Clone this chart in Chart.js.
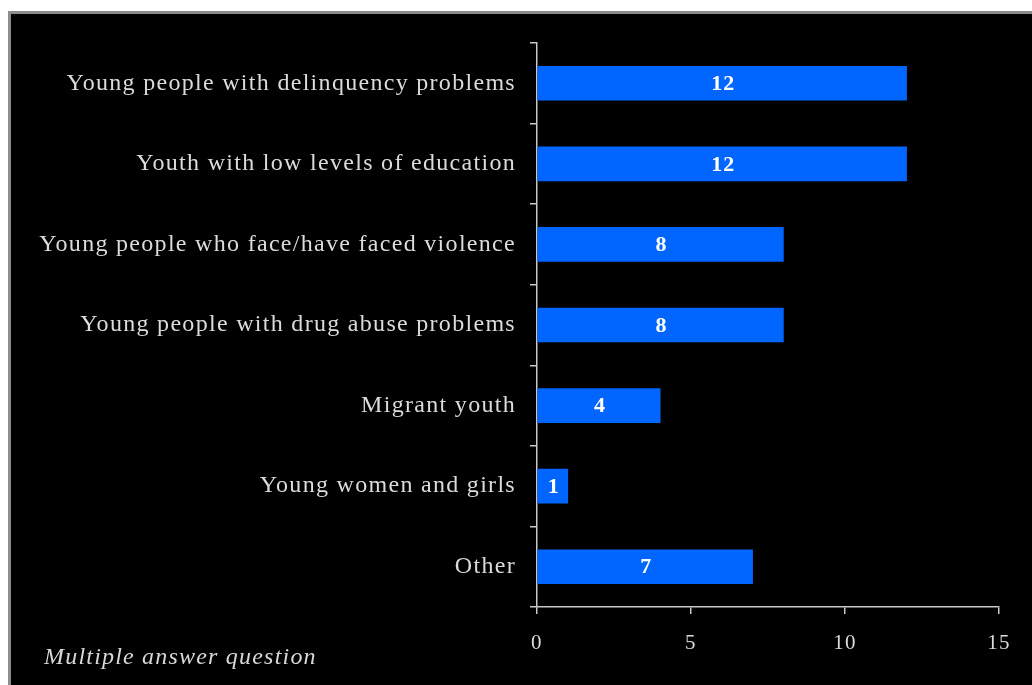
<!DOCTYPE html>
<html>
<head>
<meta charset="utf-8">
<script src="https://cdn.jsdelivr.net/npm/chart.js@4/dist/chart.umd.min.js"></script>
<style>
  html, body { margin: 0; padding: 0; background: #fff; width: 1032px; height: 685px; overflow: hidden; }
  #panel { position: absolute; left: 8px; top: 11px; width: 1040px; height: 690px; background: #000; border: 3px solid #8c8c8c; }
  #chartBox { position: absolute; left: 0; top: 0; width: 1021px; height: 671px; }
  #note { position: absolute; left: 33px; top: 629px; color: #d8d8d8; font: italic 24px "Liberation Serif", "DejaVu Serif", serif; letter-spacing: 1.2px; }
</style>
</head>
<body>
<div id="panel">
  <div id="chartBox"><canvas id="chart"></canvas></div>
  <div id="note">Multiple answer question</div>
</div>
<script>
// --- DATA ---
const categories = [
  'Young people with delinquency problems',
  'Youth with low levels of education',
  'Young people who face/have faced violence',
  'Young people with drug abuse problems',
  'Migrant youth',
  'Young women and girls',
  'Other'
];
const counts = [12, 12, 8, 8, 4, 1, 7];
const xTicks = [0, 5, 10, 15];

const SERIF = '"Liberation Serif", "DejaVu Serif", serif';

// spacing of the old slide font
const spacingPlugin = {
  id: 'spacing',
  beforeDraw(chart) { chart.ctx.letterSpacing = '1.3px'; }
};

// value numbers inside the bars
const valueLabels = {
  id: 'valueLabels',
  afterDatasetsDraw(chart) {
    const ctx = chart.ctx;
    const meta = chart.getDatasetMeta(0);
    ctx.save();
    ctx.letterSpacing = '1px';
    ctx.font = 'bold 22px ' + SERIF;
    ctx.fillStyle = '#ffffff';
    ctx.textAlign = 'center';
    ctx.textBaseline = 'middle';
    meta.data.forEach((bar, i) => {
      ctx.fillText(String(counts[i]), (bar.x + bar.base) / 2 + 1, bar.y + 1);
    });
    ctx.restore();
  }
};

function renderChart() {
  const ctx = document.getElementById('chart').getContext('2d');
  new Chart(ctx, {
    type: 'bar',
    data: {
      labels: categories,
      datasets: [{
        data: counts,
        backgroundColor: '#0066ff',
        borderWidth: 0,
        barThickness: 34
      }]
    },
    options: {
      indexAxis: 'y',
      responsive: true,
      maintainAspectRatio: false,
      animation: false,
      layout: { padding: { top: 29, right: 33, bottom: 0, left: 0 } },
      plugins: { legend: { display: false }, tooltip: { enabled: false } },
      scales: {
        y: {
          afterFit(scale) { scale.width = 526; },
          grid: { offset: true, drawOnChartArea: false, drawTicks: true, tickLength: 7, color: '#c8c8c8', lineWidth: 1.5 },
          border: { color: '#c8c8c8', width: 1.5 },
          ticks: { color: '#dcdcdc', padding: 14, font: { family: SERIF, size: 24 } }
        },
        x: {
          min: 0,
          max: 15,
          afterFit(scale) { scale.height = 78; },
          afterBuildTicks(scale) { scale.ticks = xTicks.map(v => ({ value: v })); },
          grid: { drawOnChartArea: false, drawTicks: true, tickLength: 7, color: '#c8c8c8', lineWidth: 1.5 },
          border: { color: '#c8c8c8', width: 1.5 },
          ticks: { color: '#dcdcdc', padding: 17, font: { family: SERIF, size: 21 } }
        }
      }
    },
    plugins: [spacingPlugin, valueLabels]
  });
}

window.onload = renderChart;
</script>
</body>
</html>
